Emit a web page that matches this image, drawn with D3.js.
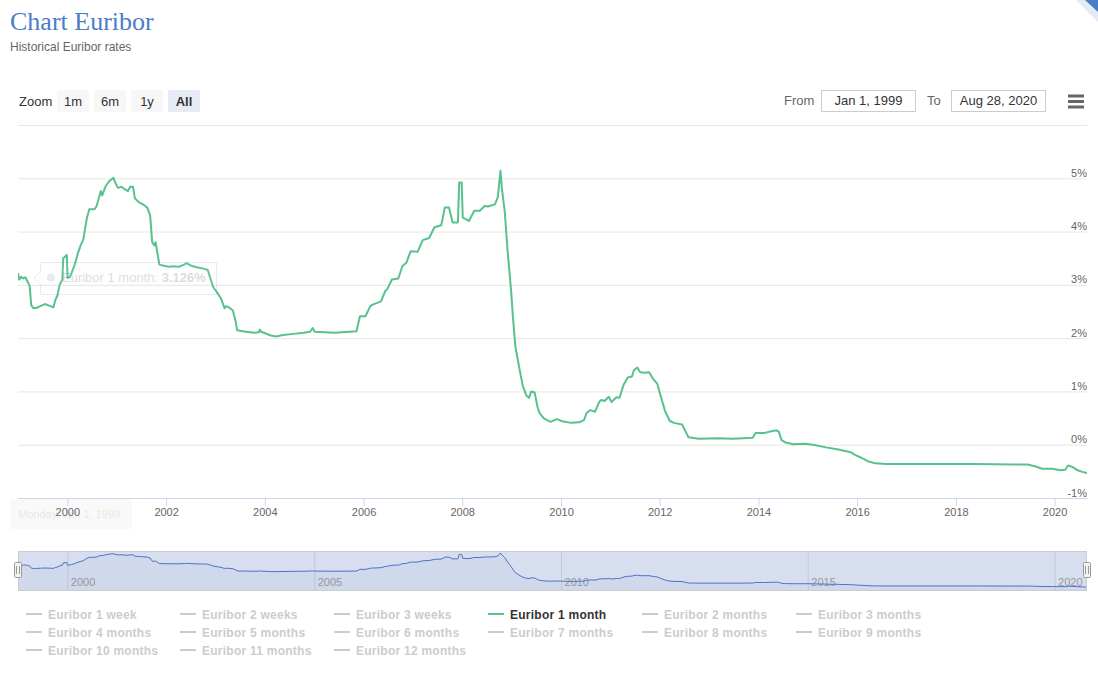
<!DOCTYPE html>
<html><head><meta charset="utf-8">
<script src="https://cdn.jsdelivr.net/npm/d3@7/dist/d3.min.js"></script>
<style>
body{margin:0;background:#fff}
svg{display:block;font-family:"Liberation Sans",Arial,sans-serif}
</style>
</head><body>
<svg id="c" width="1098" height="688"></svg>
<script>
// ---- data (Euribor 1 month, %) ----
const dates = [
"1999-01-01","1999-01-10","1999-01-25","1999-02-10","1999-02-25","1999-03-15","1999-03-28","1999-04-09","1999-04-25","1999-05-20",
"1999-06-15","1999-07-20","1999-08-20","1999-09-20","1999-10-05","1999-10-20","1999-11-05","1999-11-25","1999-12-02","1999-12-28",
"2000-01-03","2000-01-20","2000-02-01","2000-02-25","2000-03-20","2000-04-10","2000-04-28","2000-05-25","2000-06-12","2000-07-20",
"2000-08-05","2000-09-05","2000-09-15","2000-10-10","2000-11-08","2000-12-08","2000-12-20","2001-01-10","2001-02-05","2001-02-25",
"2001-03-25","2001-04-10","2001-05-01","2001-05-15","2001-06-15","2001-07-20","2001-08-15","2001-09-05","2001-09-20","2001-10-05",
"2001-10-15","2001-11-01","2001-11-12","2001-12-15","2002-01-20","2002-02-20","2002-04-05","2002-05-15","2002-06-01","2002-07-05",
"2002-08-15","2002-10-10","2002-11-05","2002-11-25","2002-12-15","2003-01-15","2003-02-10","2003-03-10","2003-03-20","2003-04-10",
"2003-05-10","2003-06-01","2003-06-10","2003-08-15","2003-10-15","2003-11-20","2003-11-25","2003-12-05","2004-02-15","2004-03-25",
"2004-05-15","2004-08-01","2004-10-15","2004-12-01","2004-12-20","2005-01-05","2005-06-01","2005-11-10","2005-12-05","2006-01-15",
"2006-02-20","2006-03-10","2006-05-10","2006-06-10","2006-06-25","2006-07-30","2006-09-15","2006-10-15","2006-11-15","2006-12-15",
"2007-02-05","2007-03-15","2007-05-01","2007-06-10","2007-07-30","2007-08-25","2007-09-25","2007-10-22","2007-11-30","2007-12-10",
"2007-12-28","2008-01-05","2008-02-20","2008-03-30","2008-05-10","2008-06-15","2008-07-10","2008-08-30","2008-09-20","2008-10-10",
"2008-10-20","2008-11-10","2008-12-02","2008-12-28","2009-01-10","2009-01-28","2009-02-15","2009-03-05","2009-03-25","2009-04-20",
"2009-05-10","2009-05-25","2009-06-20","2009-07-10","2009-07-25","2009-08-25","2009-10-15","2009-12-01","2010-01-10","2010-03-15",
"2010-05-15","2010-06-20","2010-07-10","2010-08-05","2010-09-10","2010-10-10","2010-10-25","2010-11-20","2010-12-20","2011-01-10",
"2011-02-15","2011-03-10","2011-04-10","2011-05-10","2011-06-10","2011-06-25","2011-07-20","2011-08-10","2011-09-15","2011-10-15",
"2011-11-15","2011-12-15","2012-01-10","2012-02-10","2012-03-15","2012-04-15","2012-06-15","2012-07-10","2012-08-01","2012-10-15",
"2013-03-15","2013-06-15","2013-09-15","2013-11-20","2013-12-10","2014-02-15","2014-04-01","2014-05-15","2014-06-01","2014-06-20",
"2014-07-20","2014-09-15","2014-12-15","2015-03-01","2015-05-15","2015-08-15","2015-11-15","2015-12-15","2016-01-20","2016-03-20",
"2016-05-15","2016-08-01","2017-06-01","2018-06-01","2019-03-01","2019-06-15","2019-08-15","2019-09-30","2019-12-15","2020-02-15",
"2020-03-20","2020-04-10","2020-05-15","2020-06-20","2020-07-25","2020-08-28"
];
const rates = [
3.22,3.10,3.15,3.12,3.14,3.05,2.98,2.62,2.56,2.57,
2.60,2.64,2.61,2.58,2.72,2.80,3.00,3.10,3.50,3.56,
3.13,3.15,3.22,3.38,3.60,3.75,3.85,4.26,4.42,4.42,
4.48,4.76,4.68,4.85,4.95,5.01,4.92,4.82,4.84,4.80,
4.76,4.84,4.84,4.62,4.55,4.50,4.45,4.30,3.80,3.74,
3.80,3.55,3.38,3.36,3.34,3.35,3.34,3.38,3.41,3.36,
3.33,3.30,3.28,3.12,2.96,2.85,2.75,2.56,2.60,2.58,
2.52,2.30,2.15,2.12,2.10,2.11,2.16,2.12,2.05,2.03,
2.06,2.08,2.10,2.12,2.19,2.12,2.10,2.13,2.41,2.41,
2.60,2.63,2.69,2.88,2.92,3.10,3.12,3.35,3.42,3.63,
3.62,3.84,3.88,4.08,4.12,4.45,4.45,4.17,4.17,4.92,
4.92,4.26,4.20,4.39,4.39,4.48,4.47,4.51,4.64,5.14,
4.82,4.39,3.63,2.88,2.40,1.85,1.60,1.35,1.10,0.92,
0.88,1.00,0.98,0.72,0.60,0.50,0.43,0.48,0.44,0.41,
0.42,0.46,0.60,0.65,0.62,0.80,0.84,0.82,0.90,0.80,
0.89,0.88,1.13,1.26,1.28,1.40,1.45,1.36,1.35,1.36,
1.23,1.14,0.90,0.63,0.45,0.41,0.38,0.25,0.14,0.11,
0.12,0.11,0.12,0.13,0.22,0.22,0.25,0.27,0.24,0.09,
0.04,0.01,0.02,-0.01,-0.05,-0.09,-0.14,-0.19,-0.23,-0.31,
-0.35,-0.36,-0.36,-0.36,-0.37,-0.37,-0.41,-0.45,-0.45,-0.48,
-0.47,-0.39,-0.42,-0.48,-0.51,-0.53
];
const xTickYears = [2000,2002,2004,2006,2008,2010,2012,2014,2016,2018,2020];
const navTickYears = [2000,2005,2010,2015,2020];
const yTicks = [-1,0,1,2,3,4,5];
const yGrid = [-1,0,1,2,3,4,5,6];
const zoomButtons = ["1m","6m","1y","All"];
const legendNames = ["Euribor 1 week","Euribor 2 weeks","Euribor 3 weeks","Euribor 1 month","Euribor 2 months","Euribor 3 months",
"Euribor 4 months","Euribor 5 months","Euribor 6 months","Euribor 7 months","Euribor 8 months","Euribor 9 months",
"Euribor 10 months","Euribor 11 months","Euribor 12 months"];
const activeSeries = "Euribor 1 month";
const rangeFrom = "Jan 1, 1999", rangeTo = "Aug 28, 2020";
const tooltipName = "Euribor 1 month", tooltipValue = "3.126%", tooltipDate = "Monday, Jan 1, 1999";

// ---- drawing ----
const parse = d3.timeParse("%Y-%m-%d");
const data = dates.map((d,i)=>({date:parse(d), v:rates[i]}));
const svg = d3.select("#c");
const L = 18, R = 1087, T = 125, B = 498;
const green = "#57c28d";

// corner triangle
svg.append("path").attr("d","M1076,0L1098,0L1098,22Z").attr("fill","#e4ebf6");
svg.append("path").attr("d","M1085,0L1098,0L1098,12Z").attr("fill","#4a7cc9");

// title
svg.append("text").attr("x",10).attr("y",30).attr("font-family","'Liberation Serif','Times New Roman',serif")
  .attr("font-size",26).attr("fill","#4b7cc6").text("Chart Euribor");
svg.append("text").attr("x",10).attr("y",51).attr("font-size",12).attr("fill","#666").text("Historical Euribor rates");

// range selector
svg.append("text").attr("x",19).attr("y",105.5).attr("font-size",13).attr("fill","#333").text("Zoom");
const btnX = d3.scaleBand().domain(zoomButtons).range([57,200]).paddingInner(5/37).paddingOuter(0);
zoomButtons.forEach(b=>{
  const sel = b==="All";
  const g = svg.append("g").attr("transform",`translate(${btnX(b)},90)`);
  g.append("rect").attr("width",btnX.bandwidth()).attr("height",22).attr("rx",2).attr("fill",sel?"#e6ebf5":"#f7f7f7");
  g.append("text").attr("x",btnX.bandwidth()/2).attr("y",15.5).attr("text-anchor","middle").attr("font-size",13)
    .attr("font-weight",sel?"bold":"normal").attr("fill","#333").text(b);
});
svg.append("text").attr("x",784).attr("y",105).attr("font-size",13).attr("fill","#666").text("From");
svg.append("rect").attr("x",821.5).attr("y",90.5).attr("width",94).attr("height",21).attr("fill","#fff").attr("stroke","#ccc");
svg.append("text").attr("x",868.5).attr("y",105).attr("text-anchor","middle").attr("font-size",13).attr("fill","#333").text(rangeFrom);
svg.append("text").attr("x",927).attr("y",105).attr("font-size",13).attr("fill","#666").text("To");
svg.append("rect").attr("x",951.5).attr("y",90.5).attr("width",94).attr("height",21).attr("fill","#fff").attr("stroke","#ccc");
svg.append("text").attr("x",998.5).attr("y",105).attr("text-anchor","middle").attr("font-size",13).attr("fill","#333").text(rangeTo);
[96,101.5,107].forEach(yy=>svg.append("line").attr("x1",1068).attr("x2",1084).attr("y1",yy).attr("y2",yy)
  .attr("stroke","#666").attr("stroke-width",3));

// scales
const x = d3.scaleTime().domain([parse("1999-01-01"),parse("2020-08-28")]).range([L,R]);
const y = d3.scaleLinear().domain([-1,6]).range([B,T]);

// grid
const grid = svg.append("g").attr("transform",`translate(${L},0)`)
  .call(d3.axisLeft(y).tickValues(yGrid).tickSize(-(R-L)).tickFormat(""));
grid.select(".domain").remove();
grid.selectAll("line").attr("stroke","#e6e6e6");

// y labels
const ya = svg.append("g").attr("transform",`translate(${R},0)`)
  .call(d3.axisRight(y).tickValues(yTicks).tickSize(0).tickFormat(d=>d+"%"));
ya.select(".domain").remove();
ya.selectAll("text").attr("x",0).attr("dy",0).attr("y",-2).attr("text-anchor","end")
  .attr("font-size",11).attr("fill","#666").attr("font-family","'Liberation Sans',Arial,sans-serif");

// faint date label (behind axis labels)
const dl = svg.append("g").attr("opacity",0.35);
dl.append("rect").attr("x",10).attr("y",499).attr("width",122).attr("height",30).attr("fill","#f0f0f0");
dl.append("text").attr("x",18).attr("y",518).attr("font-size",11).attr("fill","#bbb").text(tooltipDate);

// x axis
const xa = svg.append("g").attr("transform",`translate(0,${B})`)
  .call(d3.axisBottom(x).tickValues(xTickYears.map(yr=>new Date(yr,0,1))).tickSizeInner(8).tickSizeOuter(0).tickFormat(d3.timeFormat("%Y")));
xa.select(".domain").attr("stroke","#ccd6eb");
xa.selectAll("line").attr("stroke","#ccd6eb");
xa.selectAll("text").attr("y",18).attr("dy",0).attr("font-size",11).attr("fill","#666")
  .attr("font-family","'Liberation Sans',Arial,sans-serif");

// line
svg.append("clipPath").attr("id","clip").append("rect").attr("x",L).attr("y",T-5).attr("width",R-L).attr("height",B-T+5);
const line = d3.line().x(d=>x(d.date)).y(d=>y(d.v));
svg.append("path").datum(data).attr("clip-path","url(#clip)").attr("d",line)
  .attr("fill","none").attr("stroke",green).attr("stroke-width",2).attr("stroke-linejoin","round");

// faint tooltip
const tt = svg.append("g").attr("opacity",0.2);
tt.append("path").attr("d","M40.5,262.5 L216.5,262.5 L216.5,294.5 L40.5,294.5 L40.5,284 L34,278 L40.5,272 Z")
  .attr("fill","rgba(247,247,247,0.3)").attr("stroke","#7f9fd4");
tt.append("circle").attr("cx",51).attr("cy",277.5).attr("r",4).attr("fill","#7f9fd4");
const ttt = tt.append("text").attr("x",62).attr("y",282).attr("font-size",13).attr("fill","#555");
ttt.append("tspan").text(tooltipName+": ");
ttt.append("tspan").attr("font-weight","bold").text(tooltipValue);

// navigator
const NT = 551, NB = 591;
const nx = d3.scaleTime().domain(x.domain()).range([L,R]);
const ny = d3.scaleLinear().domain(d3.extent(rates)).range([587,553]);
svg.append("rect").attr("x",L).attr("y",NT).attr("width",R-L).attr("height",NB-NT).attr("fill","#d7deef");
const na = svg.append("g").attr("transform",`translate(0,${NT})`)
  .call(d3.axisBottom(nx).tickValues(navTickYears.map(yr=>new Date(yr,0,1))).tickSize(NB-NT).tickFormat(d3.timeFormat("%Y")));
na.select(".domain").remove();
na.selectAll("line").attr("stroke","#c3cadb");
na.selectAll("text").attr("x",3).attr("y",35).attr("dy",0).attr("text-anchor","start").attr("font-size",11).attr("fill","#999")
  .attr("font-family","'Liberation Sans',Arial,sans-serif");
svg.append("path").datum(data).attr("d",d3.area().x(d=>nx(d.date)).y0(NB).y1(d=>ny(d.v)))
  .attr("fill","rgba(69,114,196,0.05)");
svg.append("path").datum(data).attr("d",d3.line().x(d=>nx(d.date)).y(d=>ny(d.v)))
  .attr("fill","none").attr("stroke","#4e72c2").attr("stroke-width",1);
svg.append("rect").attr("x",L+0.5).attr("y",NT+0.5).attr("width",R-L-1).attr("height",NB-NT-1).attr("fill","none").attr("stroke","#ccc");
[L,R].forEach(hx=>{
  const g = svg.append("g").attr("transform",`translate(${hx},0)`);
  g.append("rect").attr("x",-3.5).attr("y",562.5).attr("width",7).attr("height",15).attr("rx",1).attr("fill","#f2f2f2").attr("stroke","#999");
  g.append("line").attr("x1",-1.5).attr("x2",-1.5).attr("y1",566).attr("y2",574).attr("stroke","#999");
  g.append("line").attr("x1",1.5).attr("x2",1.5).attr("y1",566).attr("y2",574).attr("stroke","#999");
});

// legend
const cols = 6, colW = 154;
legendNames.forEach((n,i)=>{
  const cx = 26 + (i%cols)*colW, cy = 614 + Math.floor(i/cols)*18;
  const act = n===activeSeries;
  svg.append("line").attr("x1",cx).attr("x2",cx+16).attr("y1",cy).attr("y2",cy)
    .attr("stroke",act?green:"#ccc").attr("stroke-width",2);
  svg.append("text").attr("x",cx+22).attr("y",cy+4.5).attr("font-size",12).attr("font-weight","bold")
    .attr("letter-spacing",0.25).attr("fill",act?"#333":"#ccc").text(n);
});
</script>
</body></html>
